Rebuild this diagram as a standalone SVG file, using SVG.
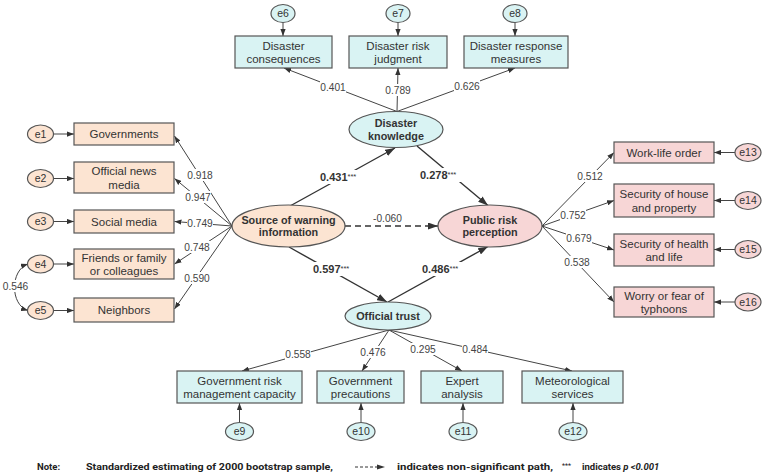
<svg xmlns="http://www.w3.org/2000/svg" width="767" height="476" viewBox="0 0 767 476">
<defs>
<marker id="a" viewBox="0 0 8 6" refX="8" refY="3" markerWidth="7" markerHeight="5.5" markerUnits="userSpaceOnUse" orient="auto-start-reverse"><path d="M0,0 L8,3 L0,6 z" fill="#333"/></marker>
<marker id="b" viewBox="0 0 10 7" refX="10" refY="3.5" markerWidth="10" markerHeight="7" markerUnits="userSpaceOnUse" orient="auto"><path d="M0,0 L10,3.5 L0,7 z" fill="#333"/></marker>
<style>
.bx{stroke:#555;stroke-width:1.2}
.pe{fill:#fce4d2}
.cy{fill:#d9f3f3}
.pk{fill:#f7d6d6}
.t{font-family:"Liberation Sans",Arial,sans-serif;font-size:11.5px;fill:#333;text-anchor:middle}
.tb{font-family:"Liberation Sans",Arial,sans-serif;font-size:10.8px;font-weight:bold;fill:#333;text-anchor:middle}
.n{font-family:"Liberation Sans",Arial,sans-serif;font-size:10.2px;fill:#444;text-anchor:middle}
.nb{font-family:"Liberation Sans",Arial,sans-serif;font-size:11px;font-weight:bold;fill:#333}
.st{font-size:7.5px;font-weight:normal}
.e{font-family:"Liberation Sans",Arial,sans-serif;font-size:10.5px;fill:#333;text-anchor:middle}
.l{stroke:#444;stroke-width:1;fill:none;marker-end:url(#a)}
.s{stroke:#333;stroke-width:1.4;fill:none;marker-end:url(#b)}
.w{fill:#fff}
.note{font-family:Roboto,"Noto Sans",sans-serif;font-size:9.5px;font-weight:bold;fill:#222}
</style>
</defs>
<rect width="767" height="476" fill="#fff"/>

<g id="connectors">
<line class="l" x1="54" y1="134" x2="74" y2="134"/>
<line class="l" x1="54" y1="178.5" x2="74" y2="178.5"/>
<line class="l" x1="54" y1="221.5" x2="74" y2="221.5"/>
<line class="l" x1="54" y1="264" x2="74" y2="264"/>
<line class="l" x1="54" y1="310.5" x2="74" y2="310.5"/>
<path d="M28,264 C10,270 10,305 28,310.5" stroke="#444" stroke-width="1" fill="none" marker-start="url(#a)" marker-end="url(#a)"/>
<line class="l" x1="232" y1="226" x2="174.5" y2="136"/>
<line class="l" x1="232" y1="226" x2="174.5" y2="178.5"/>
<line class="l" x1="232" y1="226" x2="174.5" y2="221.5"/>
<line class="l" x1="232" y1="226" x2="174.5" y2="264"/>
<line class="l" x1="232" y1="226" x2="174.5" y2="309"/>
<line class="l" x1="283" y1="22.5" x2="283" y2="36"/>
<line class="l" x1="398" y1="22.5" x2="398" y2="36"/>
<line class="l" x1="515" y1="22.5" x2="515" y2="36"/>
<line class="l" x1="397" y1="111.5" x2="284" y2="68"/>
<line class="l" x1="397" y1="111.5" x2="398" y2="68"/>
<line class="l" x1="397" y1="111.5" x2="515" y2="68"/>
<line class="l" x1="542" y1="226" x2="614" y2="152.5"/>
<line class="l" x1="542" y1="226" x2="614" y2="200.5"/>
<line class="l" x1="542" y1="226" x2="614" y2="250"/>
<line class="l" x1="542" y1="226" x2="614" y2="302"/>
<line class="l" x1="735" y1="152.5" x2="714" y2="152.5"/>
<line class="l" x1="735" y1="200.5" x2="714" y2="200.5"/>
<line class="l" x1="735" y1="249.5" x2="714" y2="249.5"/>
<line class="l" x1="735" y1="302" x2="714" y2="302"/>
<line class="l" x1="389" y1="330" x2="242" y2="371"/>
<line class="l" x1="389" y1="330" x2="362" y2="371"/>
<line class="l" x1="389" y1="330" x2="462" y2="371"/>
<line class="l" x1="389" y1="330" x2="572" y2="371"/>
<line class="l" x1="239.5" y1="422.5" x2="239.5" y2="403"/>
<line class="l" x1="361" y1="422.5" x2="361" y2="403"/>
<line class="l" x1="463" y1="422.5" x2="463" y2="403"/>
<line class="l" x1="573" y1="422.5" x2="573" y2="403"/>
<line class="s" x1="290" y1="206" x2="395" y2="148"/>
<line class="s" x1="417" y1="146" x2="488" y2="205.5"/>
<line class="s" x1="289" y1="247" x2="387" y2="302"/>
<line class="s" x1="388" y1="302" x2="488" y2="246.5"/>
<line class="s" x1="345" y1="226" x2="438" y2="226" stroke-dasharray="6,4"/>

<rect class="w" x="3" y="280" width="25" height="12"/><text class="n" x="15.5" y="289.5">0.546</text>
<rect class="w" x="187" y="169" width="26" height="12"/><text class="n" x="200" y="178.5">0.918</text>
<rect class="w" x="185" y="191" width="26" height="12"/><text class="n" x="198" y="200.5">0.947</text>
<rect class="w" x="187" y="217" width="26" height="12"/><text class="n" x="200" y="226.5">0.749</text>
<rect class="w" x="184" y="241" width="26" height="12"/><text class="n" x="197" y="250.5">0.748</text>
<rect class="w" x="184" y="272" width="26" height="12"/><text class="n" x="197" y="281.5">0.590</text>
<rect class="w" x="320" y="81" width="26" height="12"/><text class="n" x="333" y="90.5">0.401</text>
<rect class="w" x="385" y="84" width="26" height="12"/><text class="n" x="398" y="93.5">0.789</text>
<rect class="w" x="454" y="80" width="26" height="12"/><text class="n" x="467" y="89.5">0.626</text>
<rect class="w" x="577" y="170" width="26" height="12"/><text class="n" x="590" y="179.5">0.512</text>
<rect class="w" x="560" y="209" width="26" height="12"/><text class="n" x="573" y="218.5">0.752</text>
<rect class="w" x="566" y="232" width="26" height="12"/><text class="n" x="579" y="241.5">0.679</text>
<rect class="w" x="564" y="256" width="26" height="12"/><text class="n" x="577" y="265.5">0.538</text>
<rect class="w" x="285" y="348" width="26" height="12"/><text class="n" x="298" y="357.5">0.558</text>
<rect class="w" x="360" y="346" width="26" height="12"/><text class="n" x="373" y="355.5">0.476</text>
<rect class="w" x="410" y="343" width="26" height="12"/><text class="n" x="423" y="352.5">0.295</text>
<rect class="w" x="462" y="343" width="26" height="12"/><text class="n" x="475" y="352.5">0.484</text>
<rect class="w" x="319" y="170" width="44" height="14"/><text class="nb" x="320" y="181">0.431<tspan class="st" dy="-2">***</tspan></text>
<rect class="w" x="419" y="168" width="44" height="14"/><text class="nb" x="420" y="179">0.278<tspan class="st" dy="-2">***</tspan></text>
<rect class="w" x="312" y="262" width="44" height="14"/><text class="nb" x="313" y="273">0.597<tspan class="st" dy="-2">***</tspan></text>
<rect class="w" x="421" y="262" width="44" height="14"/><text class="nb" x="422" y="273">0.486<tspan class="st" dy="-2">***</tspan></text>
<text class="n" x="387.5" y="221.5">-0.060</text>
</g>

<g id="e1"><ellipse class="bx pe" cx="40.5" cy="134" rx="13" ry="9"/><text class="e" x="40.5" y="137.5">e1</text></g>
<g id="e2"><ellipse class="bx pe" cx="40.5" cy="178.5" rx="13" ry="9"/><text class="e" x="40.5" y="182">e2</text></g>
<g id="e3"><ellipse class="bx pe" cx="40.5" cy="221.5" rx="13" ry="9"/><text class="e" x="40.5" y="225">e3</text></g>
<g id="e4"><ellipse class="bx pe" cx="40.5" cy="264" rx="13" ry="9"/><text class="e" x="40.5" y="267.5">e4</text></g>
<g id="e5"><ellipse class="bx pe" cx="40.5" cy="310.5" rx="13" ry="9"/><text class="e" x="40.5" y="314">e5</text></g>
<g id="governments"><rect class="bx pe" x="74" y="123" width="100" height="22"/><text class="t" x="124" y="138">Governments</text></g>
<g id="official-news-media"><rect class="bx pe" x="74" y="162" width="100" height="31"/><text class="t" x="124" y="175">Official news</text><text class="t" x="124" y="188.5">media</text></g>
<g id="social-media"><rect class="bx pe" x="74" y="210" width="100" height="23"/><text class="t" x="124" y="225.5">Social media</text></g>
<g id="friends"><rect class="bx pe" x="74" y="249" width="100" height="30"/><text class="t" x="124" y="261.5">Friends or family</text><text class="t" x="124" y="275">or colleagues</text></g>
<g id="neighbors"><rect class="bx pe" x="74" y="298" width="100" height="24"/><text class="t" x="124" y="314">Neighbors</text></g>
<g id="source"><ellipse class="bx pe" cx="288.5" cy="226" rx="56.5" ry="21"/><text class="tb" x="288.5" y="223.5">Source of warning</text><text class="tb" x="288.5" y="236">information</text></g>

<g id="e6"><ellipse class="bx cy" cx="283" cy="13.5" rx="12" ry="9"/><text class="e" x="283" y="17">e6</text></g>
<g id="e7"><ellipse class="bx cy" cx="398" cy="13.5" rx="12" ry="9"/><text class="e" x="398" y="17">e7</text></g>
<g id="e8"><ellipse class="bx cy" cx="515" cy="13.5" rx="12" ry="9"/><text class="e" x="515" y="17">e8</text></g>
<g id="disaster-consequences"><rect class="bx cy" x="235" y="36" width="97" height="32"/><text class="t" x="283.5" y="49.5">Disaster</text><text class="t" x="283.5" y="63">consequences</text></g>
<g id="disaster-risk-judgment"><rect class="bx cy" x="349" y="36" width="98" height="32"/><text class="t" x="398" y="49.5">Disaster risk</text><text class="t" x="398" y="63">judgment</text></g>
<g id="disaster-response"><rect class="bx cy" x="464" y="36" width="104" height="32"/><text class="t" x="516" y="49.5">Disaster response</text><text class="t" x="516" y="63">measures</text></g>
<g id="knowledge"><ellipse class="bx cy" cx="396" cy="129.5" rx="47" ry="18"/><text class="tb" x="396" y="127">Disaster</text><text class="tb" x="396" y="139.5">knowledge</text></g>

<g id="public"><ellipse class="bx pk" cx="490" cy="226" rx="52" ry="21"/><text class="tb" x="490" y="223.5">Public risk</text><text class="tb" x="490" y="236">perception</text></g>
<g id="work-life"><rect class="bx pk" x="614" y="142" width="100" height="21"/><text class="t" x="664" y="156.5">Work-life order</text></g>
<g id="house"><rect class="bx pk" x="614" y="184" width="100" height="33"/><text class="t" x="664" y="198">Security of house</text><text class="t" x="664" y="211.5">and property</text></g>
<g id="health"><rect class="bx pk" x="614" y="234" width="100" height="32"/><text class="t" x="664" y="247.5">Security of health</text><text class="t" x="664" y="261">and life</text></g>
<g id="worry"><rect class="bx pk" x="614" y="287" width="100" height="30"/><text class="t" x="664" y="299.5">Worry or fear of</text><text class="t" x="664" y="313">typhoons</text></g>
<g id="e13"><ellipse class="bx pk" cx="748" cy="152.5" rx="13" ry="9"/><text class="e" x="748" y="156">e13</text></g>
<g id="e14"><ellipse class="bx pk" cx="748" cy="200.5" rx="13" ry="9"/><text class="e" x="748" y="204">e14</text></g>
<g id="e15"><ellipse class="bx pk" cx="748" cy="249.5" rx="13" ry="9"/><text class="e" x="748" y="253">e15</text></g>
<g id="e16"><ellipse class="bx pk" cx="748" cy="302" rx="13" ry="9"/><text class="e" x="748" y="305.5">e16</text></g>

<g id="trust"><ellipse class="bx cy" cx="388" cy="316" rx="43" ry="14"/><text class="tb" x="388" y="320">Official trust</text></g>
<g id="gov-risk"><rect class="bx cy" x="177" y="371" width="125" height="32"/><text class="t" x="239.5" y="384.5">Government risk</text><text class="t" x="239.5" y="398">management capacity</text></g>
<g id="gov-precautions"><rect class="bx cy" x="317" y="371" width="87" height="32"/><text class="t" x="360.5" y="384.5">Government</text><text class="t" x="360.5" y="398">precautions</text></g>
<g id="expert"><rect class="bx cy" x="421" y="371" width="82" height="32"/><text class="t" x="462" y="384.5">Expert</text><text class="t" x="462" y="398">analysis</text></g>
<g id="meteo"><rect class="bx cy" x="522" y="371" width="101" height="32"/><text class="t" x="572.5" y="384.5">Meteorological</text><text class="t" x="572.5" y="398">services</text></g>
<g id="e9"><ellipse class="bx cy" cx="239.5" cy="431.5" rx="14" ry="9"/><text class="e" x="239.5" y="435">e9</text></g>
<g id="e10"><ellipse class="bx cy" cx="361" cy="431.5" rx="14" ry="9"/><text class="e" x="361" y="435">e10</text></g>
<g id="e11"><ellipse class="bx cy" cx="463" cy="431.5" rx="14" ry="9"/><text class="e" x="463" y="435">e11</text></g>
<g id="e12"><ellipse class="bx cy" cx="573" cy="431.5" rx="14" ry="9"/><text class="e" x="573" y="435">e12</text></g>

<g id="note">
<text class="note" x="37" y="470">Note:</text>
<text class="note" x="86" y="470" textLength="247" lengthAdjust="spacingAndGlyphs">Standardized estimating of 2000 bootstrap sample,</text>
<line x1="355" y1="467" x2="377" y2="467" stroke="#333" stroke-width="1" stroke-dasharray="3,2"/>
<path d="M377,464.5 L385,467 L377,469.5 z" fill="#333"/>
<text class="note" x="397" y="470" textLength="156" lengthAdjust="spacingAndGlyphs">indicates non-significant path,</text>
<text class="note" x="562" y="468" style="font-size:7px;font-weight:normal">***</text>
<text class="note" x="582" y="470">indicates <tspan font-style="italic">p &lt;0.001</tspan></text>
</g>
</svg>
